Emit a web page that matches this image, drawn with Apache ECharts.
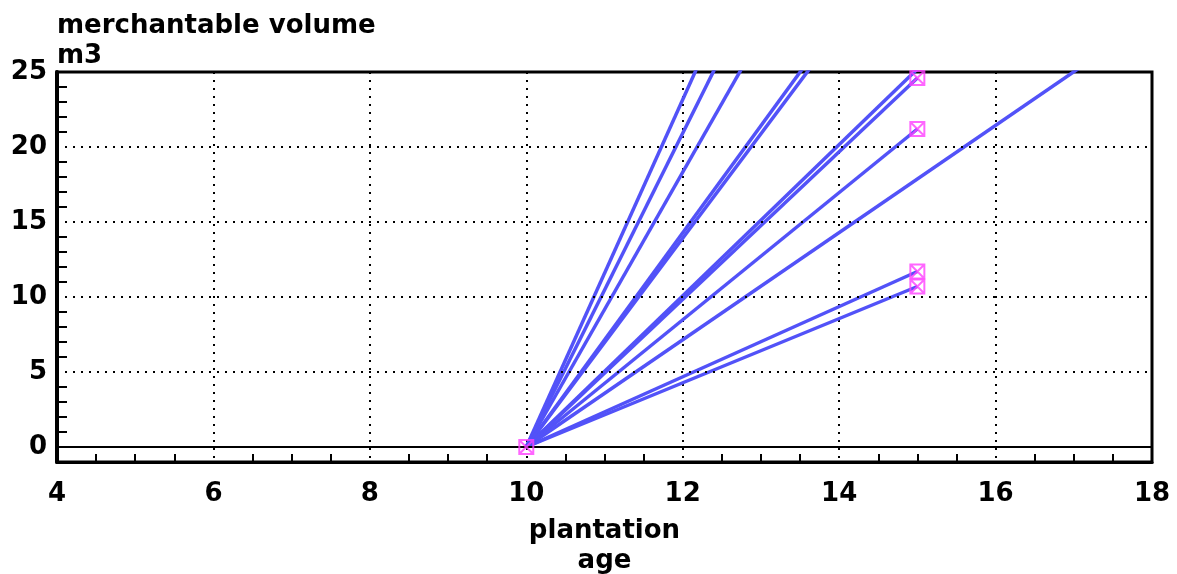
<!DOCTYPE html>
<html><head><meta charset="utf-8">
<script src="https://cdn.jsdelivr.net/npm/echarts@6/dist/echarts.min.js"></script>
<style>html,body{margin:0;padding:0;background:#fff}#c{width:1177px;height:574px}</style>
</head><body><div id="c"></div>
<script>
// data
const startAge = 10;
const startVolume = 0;
const endAge    = [15,   15,   15,   15,   15,   15,   15,   15,   17.5, 15,   15];
const endVolume = [57.9, 52.3, 45.8, 35.7, 34.8, 25.2, 24.6, 21.2, 26.8, 11.7, 10.7];
const markerAge    = [10, 15,   15,   15,   15];
const markerVolume = [0,  24.6, 21.2, 11.7, 10.7];
const xTickLabels = [4, 6, 8, 10, 12, 14, 16, 18];
const yTickLabels = [0, 5, 10, 15, 20, 25];
const yMinorTicks = [1,2,3,4,6,7,8,9,11,12,13,14,16,17,18,19,21,22,23,24];

const FONT = 'DejaVu Sans';
const chart = echarts.init(document.getElementById('c'), null, {renderer: 'canvas'});

const lineSeries = endAge.map((a, i) => ({
  type: 'line',
  data: [[startAge, startVolume], [a, endVolume[i]]],
  showSymbol: false,
  symbol: 'none',
  lineStyle: {color: '#5252f8', width: 3.5},
  clip: true,
  silent: true,
  animation: false,
  z: 2
}));

lineSeries[0].markLine = {
  silent: true,
  symbol: 'none',
  animation: false,
  label: {show: false},
  data: yTickLabels.filter(v => v > 0 && v < 25).map(v => ({
    yAxis: v, lineStyle: {color: '#000', type: [2, 6], width: 2}
  })).concat([{yAxis: 0, lineStyle: {color: '#000', type: 'solid', width: 2}}])
};

const option = {
  backgroundColor: '#fff',
  animation: false,
  grid: {left: 57, right: 25, top: 72, bottom: 112, outerBoundsMode: 'none', containLabel: false,
    show: true, borderColor: '#000', borderWidth: 3, backgroundColor: '#fff'},
  xAxis: {
    type: 'value', min: xTickLabels[0], max: xTickLabels[xTickLabels.length - 1], interval: 2,
    name: 'plantation\nage', nameLocation: 'middle', nameGap: 54,
    nameTextStyle: {color: '#000', fontSize: 26, fontWeight: 'bold', fontFamily: FONT, lineHeight: 30},
    axisLine: {onZero: false, lineStyle: {color: '#000', width: 3}},
    axisTick: {show: false, inside: true},
    minorTick: {show: true, splitNumber: 4, length: 8, lineStyle: {color: '#000', width: 2}},
    splitLine: {show: true, lineStyle: {color: '#000', type: [2, 6], width: 2}},
    axisLabel: {color: '#000', fontSize: 26, fontWeight: 'bold', fontFamily: FONT, margin: 19}
  },
  yAxis: {
    type: 'value', min: -1, max: 25, interval: 1,
    name: 'merchantable volume\nm3', nameLocation: 'end', nameGap: 1,
    nameTextStyle: {color: '#000', fontSize: 26, fontWeight: 'bold', fontFamily: FONT, lineHeight: 30, align: 'left', verticalAlign: 'bottom'},
    axisLine: {onZero: false, lineStyle: {color: '#000', width: 4}},
    axisTick: {show: true, inside: true, length: 10, customValues: yMinorTicks, lineStyle: {color: '#000', width: 2}},
    splitLine: {show: false},
    axisLabel: {customValues: yTickLabels, color: '#000', fontSize: 26, fontWeight: 'bold', fontFamily: FONT, margin: 10,
      formatter: v => (yTickLabels.indexOf(v) >= 0 ? String(v) : '')}
  },
  series: lineSeries.concat([{
    type: 'scatter',
    data: markerAge.map((a, i) => [a, markerVolume[i]]),
    symbol: 'path://M0,0H10V10H0Z M0,0L10,10 M10,0L0,10',
    symbolSize: 14,
    itemStyle: {color: 'rgba(0,0,0,0)', borderColor: '#ff40ff', borderWidth: 2},
    silent: true,
    animation: false,
    z: 5
  }])
};
chart.setOption(option);
</script>
</body></html>
